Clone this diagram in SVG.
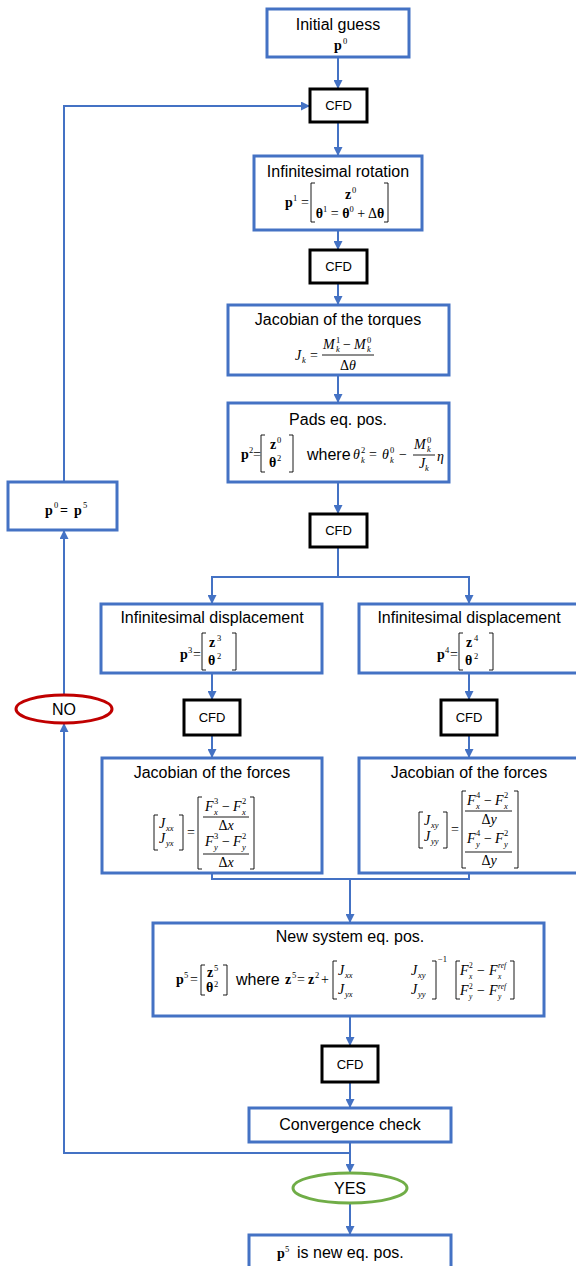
<svg xmlns="http://www.w3.org/2000/svg" width="576" height="1266" viewBox="0 0 576 1266">
<defs>
<style>
.t{font-family:"Liberation Sans",Arial,sans-serif;font-size:16px;text-anchor:middle;fill:#000}
.w{font-family:"Liberation Sans",Arial,sans-serif;font-size:16px;fill:#000}
.cf{font-family:"Liberation Sans",Arial,sans-serif;font-size:13px;text-anchor:middle;fill:#000}
.m{font-family:"Liberation Serif","Times New Roman",serif;font-size:14px;fill:#000}
.b{font-weight:bold}
.i{font-style:italic}
.s{font-size:8.5px}
.ss{font-size:7.5px}
.mid{text-anchor:middle}
.box{fill:#fff;stroke:#4472C4;stroke-width:3}
.cfd{fill:#fff;stroke:#000;stroke-width:3}
.br{fill:none;stroke:#000;stroke-width:0.9}
.c{fill:none;stroke:#4472C4;stroke-width:2}
</style>
<marker id="ah" markerUnits="userSpaceOnUse" markerWidth="9" markerHeight="9" viewBox="0 0 10 10" refX="10" refY="5" orient="auto">
<path d="M0,0 L10,5 L0,10 z" fill="#4472C4"/>
</marker>
</defs>
<rect width="576" height="1266" fill="#fff"/>

<g id="connectors">
<line class="c" x1="338" y1="57" x2="338" y2="89" marker-end="url(#ah)"/>
<line class="c" x1="338" y1="122" x2="338" y2="156" marker-end="url(#ah)"/>
<line class="c" x1="338" y1="230" x2="338" y2="250" marker-end="url(#ah)"/>
<line class="c" x1="338" y1="283" x2="338" y2="305" marker-end="url(#ah)"/>
<line class="c" x1="338" y1="375" x2="338" y2="403" marker-end="url(#ah)"/>
<line class="c" x1="338" y1="482" x2="338" y2="514" marker-end="url(#ah)"/>
<polyline class="c" points="338,547 338,577"/>
<polyline class="c" points="212,604 212,577 469,577 469,604"/>
<line class="c" x1="212" y1="580" x2="212" y2="604" marker-end="url(#ah)"/>
<line class="c" x1="469" y1="580" x2="469" y2="604" marker-end="url(#ah)"/>
<line class="c" x1="212" y1="673" x2="212" y2="700" marker-end="url(#ah)"/>
<line class="c" x1="469" y1="673" x2="469" y2="700" marker-end="url(#ah)"/>
<line class="c" x1="212" y1="735" x2="212" y2="758" marker-end="url(#ah)"/>
<line class="c" x1="469" y1="735" x2="469" y2="758" marker-end="url(#ah)"/>
<polyline class="c" points="212,873 212,879 469,879 469,873"/>
<line class="c" x1="350" y1="879" x2="350" y2="923" marker-end="url(#ah)"/>
<line class="c" x1="350" y1="1016" x2="350" y2="1046" marker-end="url(#ah)"/>
<line class="c" x1="350" y1="1082" x2="350" y2="1108" marker-end="url(#ah)"/>
<line class="c" x1="350" y1="1142" x2="350" y2="1173" marker-end="url(#ah)"/>
<line class="c" x1="350" y1="1203" x2="350" y2="1235" marker-end="url(#ah)"/>
<polyline class="c" points="350,1153 64,1153 64,723" marker-end="url(#ah)"/>
<line class="c" x1="64" y1="695" x2="64" y2="530" marker-end="url(#ah)"/>
<polyline class="c" points="64,482 64,106 310,106" marker-end="url(#ah)"/>
</g>

<g id="n-initial">
<rect class="box" x="267" y="9" width="142" height="48"/>
<text class="t" x="338" y="30">Initial guess</text>
<text class="m b" x="334" y="50">p</text><text class="m s" x="343" y="44">0</text>
</g>

<g id="n-cfd1">
<rect class="cfd" x="310" y="89" width="57" height="33"/>
<text class="cf" x="338.5" y="110">CFD</text>
</g>

<g id="n-rotation">
<rect class="box" x="254" y="156" width="168" height="74"/>
<text class="t" x="338" y="177">Infinitesimal rotation</text>
<text class="m b" x="285" y="207">p</text><text class="m s" x="293" y="201">1</text>
<text class="m" x="301" y="207">=</text>
<path class="br" d="M315,183 H311 V222 H315 M384,183 H388 V222 H384"/>
<text class="m b" x="345" y="199">z</text><text class="m s" x="352" y="193">0</text>
<text class="m mid" x="350" y="218"><tspan class="b">θ</tspan><tspan class="s" dy="-6">1</tspan><tspan dy="6"> = </tspan><tspan class="b">θ</tspan><tspan class="s" dy="-6">0</tspan><tspan dy="6"> + Δ</tspan><tspan class="b">θ</tspan></text>
</g>

<g id="n-cfd2">
<rect class="cfd" x="310" y="250" width="57" height="33"/>
<text class="cf" x="338.5" y="271">CFD</text>
</g>

<g id="n-torques">
<rect class="box" x="228" y="305" width="221" height="70"/>
<text class="t" x="338" y="325">Jacobian of the torques</text>
<text class="m i" x="295" y="360">J</text><text class="m s i" x="302" y="363">k</text>
<text class="m" x="310" y="360">=</text>
<text class="m i" x="323" y="349">M</text><text class="m s" x="336" y="343">1</text><text class="m s i" x="336" y="352">k</text>
<text class="m" x="343" y="349">−</text>
<text class="m i" x="354" y="349">M</text><text class="m s" x="367" y="343">0</text><text class="m s i" x="367" y="352">k</text>
<line class="br" x1="322" y1="355" x2="374" y2="355"/>
<text class="m mid" x="348" y="370">Δ<tspan class="i">θ</tspan></text>
</g>

<g id="n-pads">
<rect class="box" x="228" y="403" width="221" height="79"/>
<text class="t" x="338" y="425">Pads eq. pos.</text>
<text class="m b" x="241" y="459">p</text><text class="m s" x="249" y="453">2</text>
<text class="m" x="253" y="459">=</text>
<path class="br" d="M265,435 H261 V472 H265 M289,435 H293 V472 H289"/>
<text class="m b" x="270" y="449">z</text><text class="m s" x="277" y="443">0</text>
<text class="m b" x="269" y="467">θ</text><text class="m s" x="277" y="461">2</text>
<text class="w" x="307" y="460">where</text>
<text class="m i" x="353" y="459">θ</text><text class="m s" x="361" y="453">2</text><text class="m s i" x="361" y="463">k</text>
<text class="m" x="369" y="459">=</text>
<text class="m i" x="382" y="459">θ</text><text class="m s" x="390" y="453">0</text><text class="m s i" x="390" y="463">k</text>
<text class="m" x="399" y="459">−</text>
<text class="m i" x="414" y="449">M</text><text class="m s" x="427" y="443">0</text><text class="m s i" x="427" y="452">k</text>
<line class="br" x1="413" y1="455" x2="435" y2="455"/>
<text class="m i" x="419" y="468">J</text><text class="m s i" x="425" y="471">k</text>
<text class="m i" x="437" y="461">η</text>
</g>

<g id="n-cfd3">
<rect class="cfd" x="310" y="514" width="57" height="33"/>
<text class="cf" x="338.5" y="535">CFD</text>
</g>

<g id="n-update">
<rect class="box" x="8" y="482" width="109" height="48"/>
<text class="m b" x="45" y="515" font-size="15">p</text><text class="m s" x="54" y="508">0</text>
<text class="m b" x="60" y="515" font-size="15">=</text>
<text class="m b" x="74" y="515" font-size="15">p</text><text class="m s" x="83" y="508">5</text>
</g>

<g id="n-disp-left">
<rect class="box" x="101" y="604" width="221" height="69"/>
<text class="t" x="212" y="623">Infinitesimal displacement</text>
<text class="m b" x="180" y="659">p</text><text class="m s" x="188" y="653">3</text>
<text class="m" x="193" y="659">=</text>
<path class="br" d="M206,633 H202 V670 H206 M232,633 H236 V670 H232"/>
<text class="m b" x="209" y="647">z</text><text class="m s" x="217" y="641">3</text>
<text class="m b" x="208" y="665">θ</text><text class="m s" x="217" y="659">2</text>
</g>

<g id="n-disp-right">
<rect class="box" x="359" y="604" width="222" height="69"/>
<text class="t" x="469" y="623">Infinitesimal displacement</text>
<text class="m b" x="437" y="659">p</text><text class="m s" x="445" y="653">4</text>
<text class="m" x="450" y="659">=</text>
<path class="br" d="M463,633 H459 V670 H463 M489,633 H493 V670 H489"/>
<text class="m b" x="466" y="647">z</text><text class="m s" x="474" y="641">4</text>
<text class="m b" x="465" y="665">θ</text><text class="m s" x="474" y="659">2</text>
</g>

<g id="n-cfd-left">
<rect class="cfd" x="184" y="700" width="56" height="35"/>
<text class="cf" x="212" y="722">CFD</text>
</g>

<g id="n-cfd-right">
<rect class="cfd" x="441" y="700" width="56" height="35"/>
<text class="cf" x="469" y="722">CFD</text>
</g>

<g id="n-forces-left">
<rect class="box" x="102" y="758" width="220" height="115"/>
<text class="t" x="212" y="778">Jacobian of the forces</text>
<path class="br" d="M158,815 H154 V850 H158 M179,815 H183 V850 H179"/>
<text class="m i" x="159" y="828">J</text><text class="m s i" x="166" y="831">xx</text>
<text class="m i" x="159" y="843">J</text><text class="m s i" x="166" y="846">yx</text>
<text class="m" x="187" y="837">=</text>
<path class="br" d="M202,797 H198 V869 H202 M250,797 H254 V869 H250"/>
<text class="m i" x="205" y="811">F</text><text class="m s" x="214" y="804">3</text><text class="m s i" x="214" y="815">x</text>
<text class="m" x="222" y="811">−</text>
<text class="m i" x="233" y="811">F</text><text class="m s" x="242" y="804">2</text><text class="m s i" x="242" y="815">x</text>
<line class="br" x1="203" y1="817" x2="249" y2="817"/>
<text class="m mid" x="226" y="830">Δ<tspan class="i">x</tspan></text>
<text class="m i" x="205" y="846">F</text><text class="m s" x="214" y="839">3</text><text class="m s i" x="214" y="850">y</text>
<text class="m" x="222" y="846">−</text>
<text class="m i" x="233" y="846">F</text><text class="m s" x="242" y="839">2</text><text class="m s i" x="242" y="850">y</text>
<line class="br" x1="203" y1="854" x2="249" y2="854"/>
<text class="m mid" x="226" y="867">Δ<tspan class="i">x</tspan></text>
</g>

<g id="n-forces-right">
<rect class="box" x="359" y="758" width="222" height="115"/>
<text class="t" x="469" y="778">Jacobian of the forces</text>
<path class="br" d="M423,812 H419 V848 H423 M443,812 H447 V848 H443"/>
<text class="m i" x="424" y="825">J</text><text class="m s i" x="431" y="828">xy</text>
<text class="m i" x="424" y="841">J</text><text class="m s i" x="431" y="844">yy</text>
<text class="m" x="451" y="834">=</text>
<path class="br" d="M466,791 H462 V868 H466 M514,791 H518 V868 H514"/>
<text class="m i" x="467" y="805">F</text><text class="m s" x="476" y="798">4</text><text class="m s i" x="476" y="809">x</text>
<text class="m" x="484" y="805">−</text>
<text class="m i" x="495" y="805">F</text><text class="m s" x="504" y="798">2</text><text class="m s i" x="504" y="809">x</text>
<line class="br" x1="465" y1="811" x2="512" y2="811"/>
<text class="m mid" x="489" y="824">Δ<tspan class="i">y</tspan></text>
<text class="m i" x="467" y="843">F</text><text class="m s" x="476" y="836">4</text><text class="m s i" x="476" y="847">y</text>
<text class="m" x="484" y="843">−</text>
<text class="m i" x="495" y="843">F</text><text class="m s" x="504" y="836">2</text><text class="m s i" x="504" y="847">y</text>
<line class="br" x1="465" y1="852" x2="512" y2="852"/>
<text class="m mid" x="489" y="865">Δ<tspan class="i">y</tspan></text>
</g>

<g id="n-newsys">
<rect class="box" x="153" y="923" width="391" height="93"/>
<text class="t" x="350" y="942">New system eq. pos.</text>
<text class="m b" x="176" y="984">p</text><text class="m s" x="184" y="978">5</text>
<text class="m" x="190" y="984">=</text>
<path class="br" d="M205,965 H201 V995 H205 M223,965 H227 V995 H223"/>
<text class="m b" x="207" y="977">z</text><text class="m s" x="214" y="971">5</text>
<text class="m b" x="206" y="992">θ</text><text class="m s" x="214" y="987">2</text>
<text class="w" x="236" y="985">where</text>
<text class="m b" x="285" y="984">z</text><text class="m s" x="292" y="978">5</text>
<text class="m" x="297" y="984">=</text>
<text class="m b" x="308" y="984">z</text><text class="m s" x="315" y="978">2</text>
<text class="m" x="321" y="984">+</text>
<path class="br" d="M337,961 H333 V999 H337 M432,961 H436 V999 H432"/>
<text class="m i" x="338" y="975">J</text><text class="m s i" x="345" y="978">xx</text>
<text class="m i" x="411" y="975">J</text><text class="m s i" x="418" y="978">xy</text>
<text class="m i" x="338" y="994">J</text><text class="m s i" x="345" y="997">yx</text>
<text class="m i" x="411" y="994">J</text><text class="m s i" x="418" y="997">yy</text>
<text class="m s" x="438" y="962">−1</text>
<path class="br" d="M460,961 H456 V999 H460 M510,961 H514 V999 H510"/>
<text class="m i" x="460" y="975">F</text><text class="m ss" x="469" y="968">2</text><text class="m ss i" x="469" y="979">x</text>
<text class="m" x="477" y="975">−</text>
<text class="m i" x="489" y="975">F</text><text class="m ss i" x="498" y="968">ref</text><text class="m ss i" x="498" y="979">x</text>
<text class="m i" x="460" y="995">F</text><text class="m ss" x="469" y="989">2</text><text class="m ss i" x="469" y="999">y</text>
<text class="m" x="477" y="995">−</text>
<text class="m i" x="489" y="995">F</text><text class="m ss i" x="498" y="989">ref</text><text class="m ss i" x="498" y="999">y</text>
</g>

<g id="n-cfd4">
<rect class="cfd" x="322" y="1046" width="56" height="36"/>
<text class="cf" x="350" y="1069">CFD</text>
</g>

<g id="n-convergence">
<rect class="box" x="249" y="1108" width="202" height="34"/>
<text class="t" x="350" y="1130" font-size="15.5">Convergence check</text>
</g>

<g id="n-no">
<ellipse cx="64" cy="709" rx="48" ry="14" fill="#fff" stroke="#C00000" stroke-width="3"/>
<text class="t" x="64" y="715">NO</text>
</g>

<g id="n-yes">
<ellipse cx="350" cy="1188" rx="57" ry="15" fill="#fff" stroke="#70AD47" stroke-width="3"/>
<text class="t" x="350" y="1194">YES</text>
</g>

<g id="n-final">
<rect class="box" x="249" y="1235" width="202" height="40"/>
<text class="m b" x="277" y="1258">p</text><text class="m s" x="285" y="1252">5</text>
<text class="w" x="297" y="1258" font-size="14.5">is new eq. pos.</text>
</g>
</svg>
